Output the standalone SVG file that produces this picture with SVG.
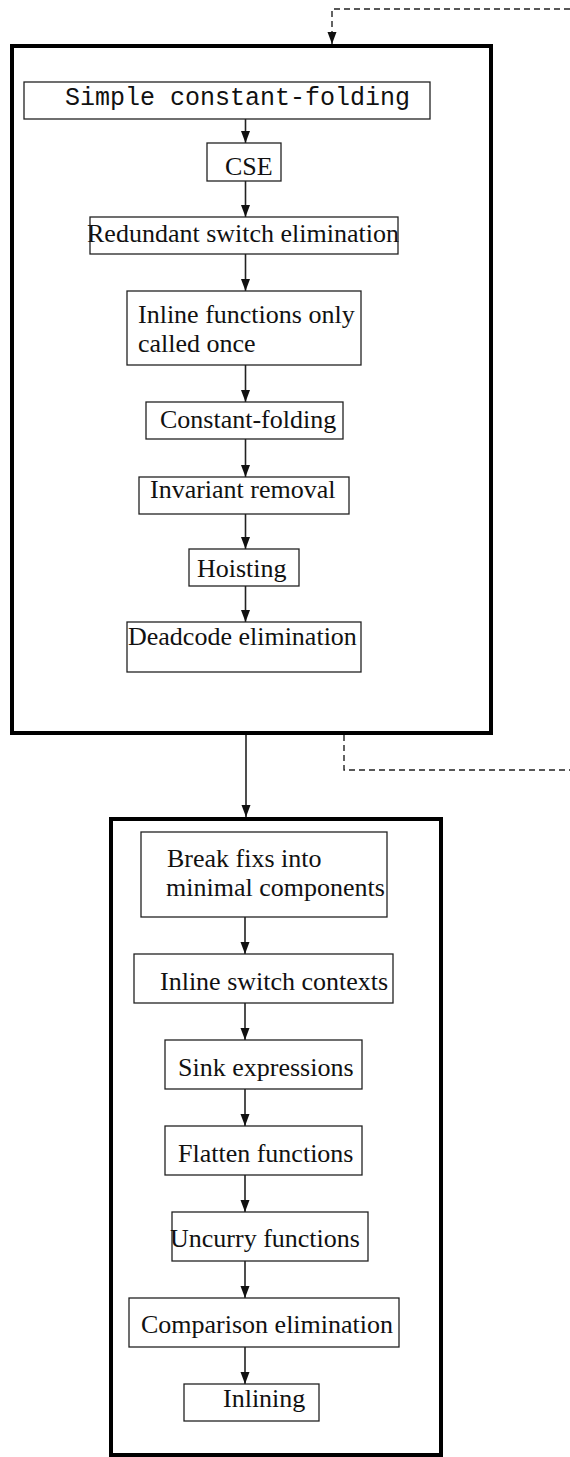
<svg xmlns="http://www.w3.org/2000/svg" width="570" height="1457" viewBox="0 0 570 1457">
<style>
.outer{fill:none;stroke:#000;stroke-width:4}
.node{fill:#fff;stroke:#222;stroke-width:1.3}
.t{font-family:"Liberation Serif","Times New Roman",serif;font-size:26px;fill:#111}
.m{font-family:"Liberation Mono","Courier New",monospace;font-size:25px;fill:#111}
.edge{fill:none;stroke:#222;stroke-width:1.6}
.dash{fill:none;stroke:#222;stroke-width:1.4;stroke-dasharray:6 4}
</style>
<defs>
<marker id="ah" viewBox="0 0 12 10" refX="12" refY="5" markerWidth="12" markerHeight="10" markerUnits="userSpaceOnUse" orient="auto">
<path d="M0,0.5 L12,5 L0,9.5 z" fill="#111"/>
</marker>
</defs>
<rect width="570" height="1457" fill="#fff"/>
<g id="group1"><rect class="outer" x="12" y="46" width="479" height="687"/></g>
<g id="group2"><rect class="outer" x="111" y="819" width="330" height="636"/></g>
<g id="connectors">
<polyline class="dash" points="570,9 332,9 332,44" marker-end="url(#ah)"/>
<polyline class="dash" points="344,735 344,770 570,770"/>
<line class="edge" x1="246" y1="735" x2="246" y2="817" marker-end="url(#ah)"/>
<line class="edge" x1="245.5" y1="119" x2="245.5" y2="143" marker-end="url(#ah)"/>
<line class="edge" x1="245.5" y1="181" x2="245.5" y2="217" marker-end="url(#ah)"/>
<line class="edge" x1="245.5" y1="254" x2="245.5" y2="291" marker-end="url(#ah)"/>
<line class="edge" x1="245.5" y1="365" x2="245.5" y2="402" marker-end="url(#ah)"/>
<line class="edge" x1="245.5" y1="439" x2="245.5" y2="477" marker-end="url(#ah)"/>
<line class="edge" x1="245.5" y1="514" x2="245.5" y2="549" marker-end="url(#ah)"/>
<line class="edge" x1="245.5" y1="586" x2="245.5" y2="622" marker-end="url(#ah)"/>
<line class="edge" x1="245" y1="917" x2="245" y2="954" marker-end="url(#ah)"/>
<line class="edge" x1="245" y1="1003" x2="245" y2="1040" marker-end="url(#ah)"/>
<line class="edge" x1="245" y1="1089" x2="245" y2="1126" marker-end="url(#ah)"/>
<line class="edge" x1="245" y1="1175" x2="245" y2="1212" marker-end="url(#ah)"/>
<line class="edge" x1="245" y1="1261" x2="245" y2="1298" marker-end="url(#ah)"/>
<line class="edge" x1="245" y1="1347" x2="245" y2="1384" marker-end="url(#ah)"/>
</g>
<g id="n-simple"><rect class="node" x="24" y="82" width="406" height="37"/><text class="m" x="65" y="105">Simple constant-folding</text></g>
<g id="n-cse"><rect class="node" x="207" y="143" width="74" height="38"/><text class="t" x="225" y="175">CSE</text></g>
<g id="n-redundant"><rect class="node" x="90" y="217" width="308" height="37"/><text class="t" x="87" y="242">Redundant switch elimination</text></g>
<g id="n-inline-once"><rect class="node" x="127" y="291" width="234" height="74"/><text class="t" x="138" y="323">Inline functions only</text><text class="t" x="138" y="352">called once</text></g>
<g id="n-constfold"><rect class="node" x="146" y="402" width="197" height="37"/><text class="t" x="160" y="428">Constant-folding</text></g>
<g id="n-invariant"><rect class="node" x="139" y="477" width="210" height="37"/><text class="t" x="150" y="498">Invariant removal</text></g>
<g id="n-hoisting"><rect class="node" x="189" y="549" width="110" height="37"/><text class="t" x="197" y="577">Hoisting</text></g>
<g id="n-deadcode"><rect class="node" x="127" y="622" width="234" height="50"/><text class="t" x="128" y="645">Deadcode elimination</text></g>
<g id="n-break"><rect class="node" x="141" y="832" width="246" height="85"/><text class="t" x="167" y="867">Break fixs into</text><text class="t" x="166" y="896">minimal components</text></g>
<g id="n-inlineswitch"><rect class="node" x="134" y="954" width="259" height="49"/><text class="t" x="160" y="990">Inline switch contexts</text></g>
<g id="n-sink"><rect class="node" x="165" y="1040" width="197" height="49"/><text class="t" x="178" y="1076">Sink expressions</text></g>
<g id="n-flatten"><rect class="node" x="165" y="1126" width="197" height="49"/><text class="t" x="178" y="1162">Flatten functions</text></g>
<g id="n-uncurry"><rect class="node" x="172" y="1212" width="196" height="49"/><text class="t" x="170" y="1247">Uncurry functions</text></g>
<g id="n-comparison"><rect class="node" x="129" y="1298" width="270" height="49"/><text class="t" x="141" y="1333">Comparison elimination</text></g>
<g id="n-inlining"><rect class="node" x="184" y="1384" width="135" height="37"/><text class="t" x="223" y="1407">Inlining</text></g>
</svg>
